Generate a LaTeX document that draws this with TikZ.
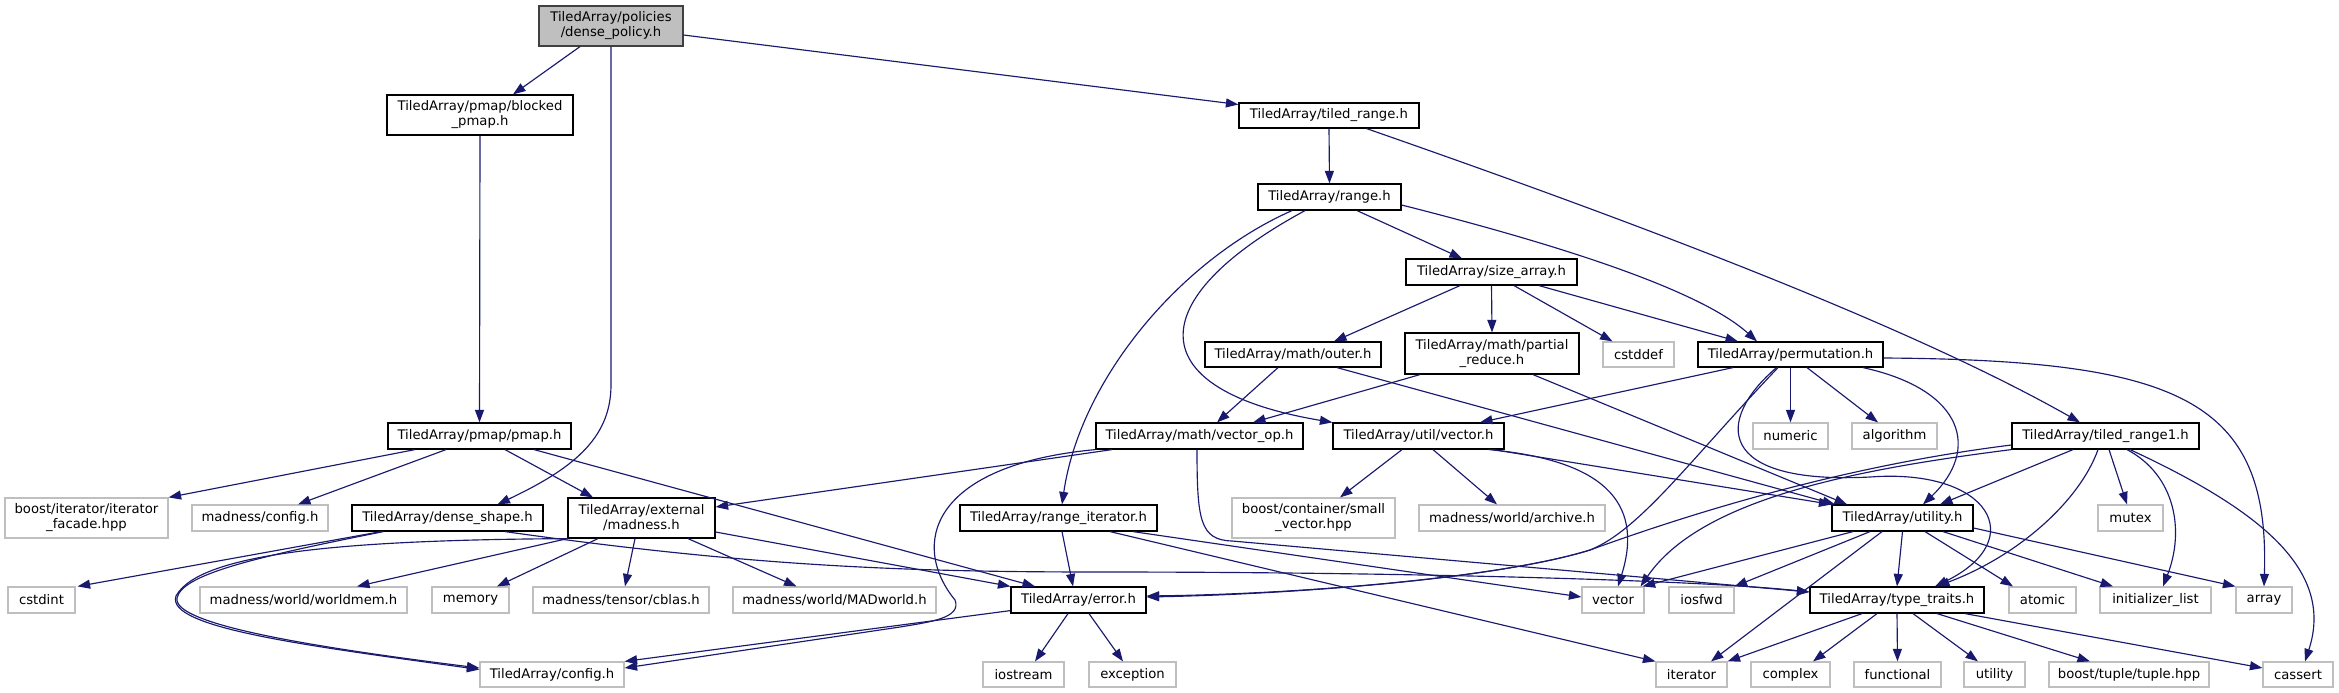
\documentclass[tikz,border=0pt]{standalone}
\usepackage{fontspec}
\setmainfont{DejaVu Sans}
\usetikzlibrary{arrows.meta}
\definecolor{edgec}{HTML}{191970}
\definecolor{sysb}{HTML}{BFBFBF}
\definecolor{mainf}{HTML}{BFBFBF}
\definecolor{mainb}{HTML}{404040}
\newcommand\lab{\fontsize{13.2}{15}\selectfont}
\tikzset{
  ta/.style={draw=black, line width=1.2pt, fill=white, inner sep=0pt, align=center, font=\lab},
  sys/.style={draw=sysb, line width=1.2pt, fill=white, inner sep=0pt, align=center, font=\lab},
  rootn/.style={draw=mainb, line width=1.2pt, fill=mainf, inner sep=0pt, align=center, font=\lab},
  e/.style={draw=edgec, line width=1.15pt, -{Triangle[length=12.5pt,width=9pt]}},
}
\begin{document}
\begin{tikzpicture}[x=1pt,y=-1pt]
\fill[white] (0,0) rectangle (2339,693);
\useasboundingbox (0,0) rectangle (2339,693);

% ---- nodes ----
\node[rootn, minimum width=144pt, minimum height=40pt] (dp) at (611,26) {TiledArray/policies\\/dense\_policy.h};
\node[ta, minimum width=186pt, minimum height=40pt] (bp) at (480,115) {TiledArray/pmap/blocked\\\_pmap.h};
\node[ta, minimum width=180pt, minimum height=25pt] (tr) at (1329,115.5) {TiledArray/tiled\_range.h};
\node[ta, minimum width=143pt, minimum height=26pt] (rg) at (1329.5,197) {TiledArray/range.h};
\node[ta, minimum width=171pt, minimum height=26pt] (sa) at (1491.5,272) {TiledArray/size\_array.h};
\node[ta, minimum width=176pt, minimum height=25pt] (ou) at (1293,354.5) {TiledArray/math/outer.h};
\node[ta, minimum width=174pt, minimum height=41pt] (pr) at (1492,353.5) {TiledArray/math/partial\\\_reduce.h};
\node[sys, minimum width=71pt, minimum height=25pt] (cd) at (1638.5,354.5) {cstddef};
\node[ta, minimum width=185pt, minimum height=25pt] (pm) at (1790.5,354.5) {TiledArray/permutation.h};

\node[ta, minimum width=183pt, minimum height=26pt] (pmap) at (479.5,436) {TiledArray/pmap/pmap.h};
\node[ta, minimum width=207pt, minimum height=26pt] (vo) at (1199.5,436) {TiledArray/math/vector\_op.h};
\node[ta, minimum width=171pt, minimum height=26pt] (uv) at (1418.5,436) {TiledArray/util/vector.h};
\node[sys, minimum width=75pt, minimum height=26pt] (nu) at (1790.5,436) {numeric};
\node[sys, minimum width=85pt, minimum height=26pt] (al) at (1894.5,436) {algorithm};
\node[ta, minimum width=187pt, minimum height=26pt] (tr1) at (2105.5,436) {TiledArray/tiled\_range1.h};

\node[sys, minimum width=163pt, minimum height=40pt] (itf) at (86.5,518) {boost/iterator/iterator\\\_facade.hpp};
\node[sys, minimum width=136pt, minimum height=26pt] (mc) at (260,518) {madness/config.h};
\node[ta, minimum width=191pt, minimum height=26pt] (ds) at (447.5,518) {TiledArray/dense\_shape.h};
\node[ta, minimum width=147pt, minimum height=40pt] (em) at (641.5,518) {TiledArray/external\\/madness.h};
\node[ta, minimum width=197pt, minimum height=26pt] (ri) at (1058.5,518) {TiledArray/range\_iterator.h};
\node[sys, minimum width=163pt, minimum height=40pt] (sv) at (1313.5,518) {boost/container/small\\\_vector.hpp};
\node[sys, minimum width=186pt, minimum height=26pt] (ar) at (1512,518) {madness/world/archive.h};
\node[ta, minimum width=141pt, minimum height=26pt] (ut) at (1902.5,518) {TiledArray/utility.h};
\node[sys, minimum width=65pt, minimum height=26pt] (mx) at (2130.5,518) {mutex};

\node[sys, minimum width=67pt, minimum height=26pt] (ci) at (41.5,600) {cstdint};
\node[sys, minimum width=207pt, minimum height=26pt] (wm) at (303.5,600) {madness/world/worldmem.h};
\node[sys, minimum width=77pt, minimum height=26pt] (me) at (470.5,600) {memory};
\node[sys, minimum width=176pt, minimum height=26pt] (cb) at (621,600) {madness/tensor/cblas.h};
\node[sys, minimum width=203pt, minimum height=26pt] (mw) at (834.5,600) {madness/world/MADworld.h};
\node[ta, minimum width=135pt, minimum height=26pt] (er) at (1078.5,600) {TiledArray/error.h};
\node[sys, minimum width=62pt, minimum height=26pt] (ve) at (1613,600) {vector};
\node[sys, minimum width=65pt, minimum height=26pt] (io) at (1701.5,600) {iosfwd};
\node[ta, minimum width=174pt, minimum height=26pt] (tt) at (1897,600) {TiledArray/type\_traits.h};
\node[sys, minimum width=67pt, minimum height=26pt] (at) at (2042.5,600) {atomic};
\node[sys, minimum width=111pt, minimum height=26pt] (il) at (2155.5,600) {initializer\_list};
\node[sys, minimum width=56pt, minimum height=26pt] (ay) at (2264,600) {array};

\node[sys, minimum width=144pt, minimum height=25pt] (cf) at (552,674.5) {TiledArray/config.h};
\node[sys, minimum width=81pt, minimum height=25pt] (is) at (1023.5,674.5) {iostream};
\node[sys, minimum width=87pt, minimum height=25pt] (ex) at (1132.5,674.5) {exception};
\node[sys, minimum width=71pt, minimum height=25pt] (it) at (1691.5,674.5) {iterator};
\node[sys, minimum width=79pt, minimum height=25pt] (cx) at (1790.5,674.5) {complex};
\node[sys, minimum width=87pt, minimum height=25pt] (fu) at (1897.5,674.5) {functional};
\node[sys, minimum width=61pt, minimum height=25pt] (ul) at (1994.5,674.5) {utility};
\node[sys, minimum width=160pt, minimum height=25pt] (tp) at (2129,674.5) {boost/tuple/tuple.hpp};
\node[sys, minimum width=70pt, minimum height=25pt] (ca) at (2298,674.5) {cassert};

% ---- edges ----
\draw[e] ([xshift=-31pt]dp.south) -- ([xshift=33pt]bp.north);
\draw[e] (dp.south) -- (611,385) .. controls (611,440) and (570,470) .. ([xshift=50pt]ds.north);
\draw[e] ([yshift=-9pt]dp.east) -- ([yshift=11pt]tr.west);
\draw[e] (bp.south) -- (pmap.north);

\draw[e] (tr.south) -- (rg.north);
\draw[e] ([xshift=37.6pt]tr.south) .. controls (1600,210) and (1900,320) .. ([xshift=-25.5pt]tr1.north);

\draw[e] ([xshift=27.5pt]rg.south) -- ([xshift=-29.5pt]sa.north);
\draw[e] ([yshift=-8pt]rg.east) .. controls (1560,245) and (1700,290) .. ([xshift=-33.5pt]pm.north);
\draw[e] ([xshift=-37.5pt]rg.south) .. controls (1180,260) and (1080,380) .. ([xshift=3.5pt]ri.north);
\draw[e] ([xshift=-24.5pt]rg.south) .. controls (1140,300) and (1140,390) .. (uv.north west);

\draw[e] ([xshift=-31.5pt]sa.south) -- ([xshift=41pt]ou.north);
\draw[e] (sa.south) -- (pr.north);
\draw[e] ([xshift=22.5pt]sa.south) -- ([xshift=-26pt]cd.north);
\draw[e] ([xshift=47.5pt]sa.south) -- ([xshift=-52.5pt]pm.north);

\draw[e] ([xshift=-15pt]ou.south) -- ([xshift=17.5pt]vo.north);
\draw[e] ([xshift=44pt]ou.south) -- ([xshift=-67.5pt]ut.north);
\draw[e] ([xshift=-72pt]pr.south) -- ([xshift=53.5pt]vo.north);
\draw[e] ([xshift=41pt]pr.south) -- ([xshift=-55.5pt]ut.north);

\draw[e] ([xshift=-57.5pt]pm.south) -- ([xshift=61.5pt]uv.north);
\draw[e] ([xshift=-12.5pt]pm.south) .. controls (1690,460) and (1640,530) .. (1590,550) .. controls (1500,578) and (1300,594) .. ([yshift=3pt]er.east);
\draw[e] ([xshift=-14pt]pm.south) .. controls (1715,420) and (1715,485) .. (1870,477) .. controls (1990,468) and (2030,540) .. ([xshift=38pt]tt.north);
\draw[e] (pm.south) -- (nu.north);
\draw[e] ([xshift=16.5pt]pm.south) -- ([xshift=-16.5pt]al.north);
\draw[e] ([xshift=72.5pt]pm.south) .. controls (1965,390) and (1980,450) .. ([xshift=20.5pt]ut.north);
\draw[e] ([yshift=-3.5pt]pm.east) .. controls (2180,360) and (2270,400) .. (ay.north);

\draw[e] ([xshift=-32.5pt]tr1.south) -- ([xshift=37.5pt]ut.north);
\draw[e] ([xshift=-7.5pt]tr1.south) .. controls (2080,500) and (2020,555) .. ([xshift=40pt]tt.north);
\draw[e] ([xshift=3.5pt]tr1.south) -- ([xshift=-3.5pt]mx.north);
\draw[e] ([xshift=21.5pt]tr1.south) .. controls (2175,475) and (2185,530) .. ([xshift=7.5pt]il.north);
\draw[e] ([xshift=24.5pt]tr1.south) .. controls (2260,510) and (2335,570) .. ([xshift=7pt]ca.north);
\draw[e] ([yshift=-9pt]tr1.west) .. controls (1850,465) and (1700,510) .. (1590,550) .. controls (1500,578) and (1300,594) .. ([yshift=4pt]er.east);
\draw[e] (tr1.south west) .. controls (1850,470) and (1700,500) .. ([xshift=-4pt]ve.north east);

\draw[e] ([xshift=-49.5pt]ut.south) -- ([xshift=-2pt]ve.north east);
\draw[e] ([xshift=-32.5pt]ut.south) -- (io.north east);
\draw[e] ([xshift=-20.5pt]ut.south) -- ([xshift=19.5pt]it.north);
\draw[e] (ut.south) -- (tt.north);
\draw[e] ([xshift=22.5pt]ut.south) -- ([xshift=-29.5pt]at.north);
\draw[e] ([xshift=40.5pt]ut.south) -- ([xshift=-42.5pt]il.north);
\draw[e] ([yshift=-10pt]ut.east) -- (ay.north west);

\draw[e] ([xshift=-16.5pt]uv.south) -- ([xshift=26.5pt]sv.north);
\draw[e] ([xshift=14.5pt]uv.south) -- ([xshift=-15pt]ar.north);
\draw[e] ([xshift=70.5pt]uv.south) .. controls (1600,460) and (1645,500) .. ([xshift=5pt]ve.north);
\draw[e] ([xshift=74.5pt]uv.south) -- (ut.north west);

\draw[e] ([xshift=-87.5pt]vo.south) -- ([yshift=11pt]em.east);
\draw[e] (vo.south west) .. controls (930,465) and (910,545) .. (955,600) .. controls (962,618) and (930,622) .. (900,627) -- ([yshift=6.5pt]cf.east);
\draw[e] ([xshift=-2.5pt]vo.south) .. controls (1197,520) and (1200,540) .. (1232,541) -- ([yshift=8pt]tt.west);

\draw[e] ([xshift=-66.5pt]ds.south) -- ([xshift=2pt]ci.north east);
\draw[e] ([xshift=-64pt]ds.south) .. controls (250,558) and (182,575) .. (177,598) .. controls (172,625) and (320,648) .. ([yshift=6.5pt]cf.west);
\draw[e] ([xshift=57.5pt]ds.south) .. controls (750,566) and (900,572) .. (1100,572) .. controls (1400,572) and (1700,580) .. ([yshift=8pt]tt.west);

\draw[e] (em.south west) .. controls (350,540) and (200,552) .. (176,596) .. controls (165,628) and (310,646) .. ([yshift=5pt]cf.west);
\draw[e] (em.south west) -- ([xshift=53.5pt]wm.north);
\draw[e] ([xshift=-43.5pt]em.south) -- ([xshift=26.5pt]me.north);
\draw[e] ([xshift=-6.5pt]em.south) -- ([xshift=4pt]cb.north);
\draw[e] ([xshift=46.5pt]em.south) -- ([xshift=-38pt]mw.north);
\draw[e] ([yshift=-14pt]em.east) -- (er.north west);

\draw[e] ([xshift=54.5pt]pmap.south) -- ([xshift=-43.5pt]er.north);
\draw[e] ([xshift=25.5pt]pmap.south) -- ([xshift=-48.5pt]em.north);
\draw[e] ([xshift=-33.5pt]pmap.south) -- ([xshift=38pt]mc.north);
\draw[e] ([xshift=-64.5pt]pmap.south) -- (itf.north east);

\draw[e] ([yshift=3pt]er.south west) -- (cf.north east);
\draw[e] ([xshift=-10.5pt]er.south) -- ([xshift=11.5pt]is.north);
\draw[e] ([xshift=10.5pt]er.south) -- ([xshift=-9.5pt]ex.north);

\draw[e] ([xshift=3.5pt]ri.south) -- ([xshift=-5.5pt]er.north);
\draw[e] ([xshift=74.5pt]ri.south) -- ([yshift=3pt]ve.west);
\draw[e] ([xshift=51.5pt]ri.south) -- (it.north west);

\draw[e] ([xshift=-35pt]tt.south) -- (it.north east);
\draw[e] ([xshift=-20pt]tt.south) -- ([xshift=22.5pt]cx.north);
\draw[e] (tt.south) -- (fu.north);
\draw[e] ([xshift=16pt]tt.south) -- ([xshift=-16.5pt]ul.north);
\draw[e] ([xshift=40pt]tt.south) -- ([xshift=-39pt]tp.north);
\draw[e] ([xshift=68pt]tt.south) -- ([yshift=6.5pt]ca.west);
\end{tikzpicture}
\end{document}
